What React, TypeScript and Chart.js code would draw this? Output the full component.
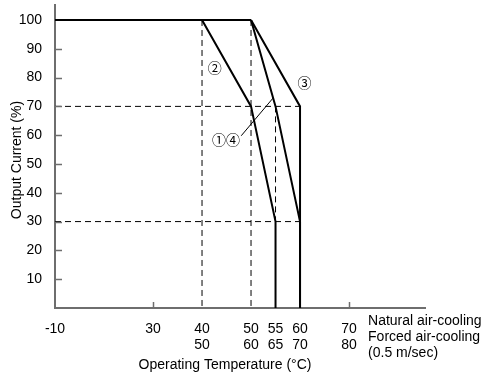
import React, { useEffect, useRef } from 'react';
import { Chart, registerables } from 'chart.js';

Chart.register(...registerables);

// ---- data (temperatures in °C, natural air-cooling scale; current in %) ----
const tickTemps = [-10, 30, 40, 50, 55, 60, 70];
const naturalLabels = ['-10', '30', '40', '50', '55', '60', '70'];
const forcedLabels = ['', '', '50', '60', '65', '70', '80'];
const yTickValues = [10, 20, 30, 40, 50, 60, 70, 80, 90, 100];
const xTickMarkTemps = [30, 70];

const plateauTemps = [-10, 50];
const plateauCurrent = [100, 100];
const curve2Temps = [40, 50, 55, 55];
const curve2Current = [100, 70, 30, 0];
const curve14Temps = [50, 55, 60, 60];
const curve14Current = [100, 70, 30, 0];
const curve3Temps = [50, 60, 60];
const curve3Current = [100, 70, 0];

const guide40Temps = [40, 40];
const guide40Current = [100, 0];
const guide50Temps = [50, 50];
const guide50Current = [100, 0];
const guide55Temps = [55, 55];
const guide55Current = [70, 30];
const guide70Temps = [-10, 60];
const guide70Current = [70, 70];
const guide30Temps = [-10, 60];
const guide30Current = [30, 30];

const leaderTemps = [48, 54.5];
const leaderCurrent = [59.8, 72.9];

const annotationTexts = ['②', '③', '①④'];
const annotationTemps = [42.6, 60.9, 44.9];
const annotationCurrent = [83.3, 78.1, 58.5];

// broken axis: the -10 tick sits 20 units left of 30
const toAxis = (t: number) => (t < 30 ? t + 20 : t);
const pts = (ts: number[], vs: number[]) => ts.map((t, i) => ({ x: toAxis(t), y: vs[i] }));

const FONT = '"Liberation Sans", Arial, Helvetica, sans-serif';
const CIRCLE_FONT = '"Noto Sans CJK JP", "Noto Sans CJK SC", "DejaVu Sans", sans-serif';
const AXIS_COLOR = '#6e6e6e';

export default function App() {
  const ref = useRef<HTMLCanvasElement | null>(null);

  useEffect(() => {
    document.body.style.margin = '0';
    const canvas = ref.current;
    if (!canvas) return;

    const solid = (data: any[]) => ({
      data,
      borderColor: '#000',
      borderWidth: 2,
      pointRadius: 0,
      fill: false,
      tension: 0,
      borderJoinStyle: 'miter' as const,
    });
    const dashed = (data: any[]) => ({
      data,
      borderColor: '#000',
      borderWidth: 1,
      borderDash: [6, 4],
      pointRadius: 0,
      fill: false,
      tension: 0,
    });

    const overlay = {
      id: 'overlay',
      afterDraw(chart: any) {
        const { ctx, chartArea, scales } = chart;
        const x = scales.x;
        const y = scales.y;
        ctx.save();
        ctx.strokeStyle = AXIS_COLOR;
        ctx.lineWidth = 1.5;
        yTickValues.filter((v) => v < 100).forEach((v) => {
          const py = Math.round(y.getPixelForValue(v)) + 0.5;
          ctx.beginPath();
          ctx.moveTo(chartArea.left, py);
          ctx.lineTo(chartArea.left + 7, py);
          ctx.stroke();
        });
        xTickMarkTemps.forEach((t) => {
          const px = Math.round(x.getPixelForValue(toAxis(t))) + 0.5;
          ctx.beginPath();
          ctx.moveTo(px, chartArea.bottom);
          ctx.lineTo(px, chartArea.bottom - 6);
          ctx.stroke();
        });

        ctx.fillStyle = '#000';
        ctx.font = `14px ${CIRCLE_FONT}`;
        ctx.textAlign = 'center';
        ctx.textBaseline = 'middle';
        annotationTexts.forEach((txt, i) => {
          ctx.fillText(txt, x.getPixelForValue(toAxis(annotationTemps[i])), y.getPixelForValue(annotationCurrent[i]));
        });

        // side labels of the two temperature rows
        ctx.font = `14px ${FONT}`;
        ctx.textAlign = 'left';
        const sx = x.getPixelForValue(70) + 19;
        const rowTop = chartArea.bottom + 13;
        ctx.fillText('Natural air-cooling', sx, rowTop);
        ctx.fillText('Forced air-cooling', sx, rowTop + 16);
        ctx.fillText('(0.5 m/sec)', sx, rowTop + 32);

        // axis titles
        ctx.textAlign = 'center';
        ctx.fillText('Operating Temperature (°C)', 225, chartArea.bottom + 57);
        ctx.save();
        ctx.translate(17, 160);
        ctx.rotate(-Math.PI / 2);
        ctx.fillText('Output Current (%)', 0, 0);
        ctx.restore();
        ctx.restore();
      },
    };

    const chart = new Chart(canvas, {
      type: 'line',
      data: {
        datasets: [
          dashed(pts(guide40Temps, guide40Current)),
          dashed(pts(guide50Temps, guide50Current)),
          dashed(pts(guide55Temps, guide55Current)),
          dashed(pts(guide70Temps, guide70Current)),
          dashed(pts(guide30Temps, guide30Current)),
          { ...solid(pts(leaderTemps, leaderCurrent)), borderWidth: 1 },
          solid(pts(plateauTemps, plateauCurrent)),
          solid(pts(curve2Temps, curve2Current)),
          solid(pts(curve14Temps, curve14Current)),
          solid(pts(curve3Temps, curve3Current)),
        ],
      },
      options: {
        responsive: false,
        animation: false,
        events: [],
        layout: { padding: { top: 5, right: 66, bottom: 0, left: 0 } },
        plugins: { legend: { display: false }, tooltip: { enabled: false } },
        scales: {
          x: {
            type: 'linear',
            min: 10,
            max: 85.5,
            grid: { display: false },
            border: { display: true, color: AXIS_COLOR, width: 2 },
            afterBuildTicks: (scale: any) => {
              scale.ticks = tickTemps.map((t) => ({ value: toAxis(t) }));
            },
            afterFit: (scale: any) => {
              scale.height = 69;
              scale.paddingLeft = 0;
              scale.paddingRight = 0;
            },
            ticks: {
              autoSkip: false,
              maxRotation: 0,
              minRotation: 0,
              padding: 5,
              color: '#000',
              font: { family: FONT, size: 14, lineHeight: '16px' },
              callback: (_v: any, i: number) => {
                const f = forcedLabels[i];
                return f ? [naturalLabels[i], f] : naturalLabels[i];
              },
            },
          },
          y: {
            type: 'linear',
            min: 0,
            max: 105.2,
            grid: { display: false },
            border: { display: true, color: AXIS_COLOR, width: 2 },
            afterBuildTicks: (scale: any) => {
              scale.ticks = yTickValues.map((v) => ({ value: v }));
            },
            afterFit: (scale: any) => {
              scale.width = 55;
              scale.paddingTop = 0;
              scale.paddingBottom = 0;
            },
            ticks: {
              padding: 5,
              color: '#000',
              font: { family: FONT, size: 14 },
              callback: (v: any) => String(v),
            },
          },
        },
      },
      plugins: [overlay],
    } as any);

    return () => chart.destroy();
  }, []);

  return (
    <div style={{ position: 'fixed', left: 0, top: 0, width: 491, height: 377, background: '#fff' }}>
      <canvas ref={ref} width={491} height={377} />
    </div>
  );
}
